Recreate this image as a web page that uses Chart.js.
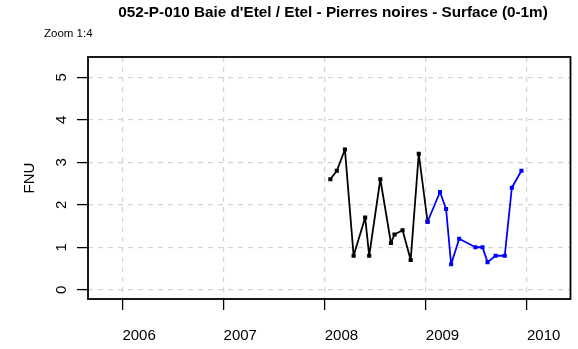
<!DOCTYPE html>
<html>
<head>
<meta charset="utf-8">
<script src="https://cdn.jsdelivr.net/npm/chart.js@4"></script>
<style>
  html, body { margin: 0; padding: 0; background: #fff; }
  canvas { display: block; }
</style>
</head>
<body>
<canvas id="grafico" width="578" height="349"></canvas>
<script>
// Mesures de turbidité (FNU), dates en années décimales
const datesNoir = [2008.056, 2008.12, 2008.20, 2008.286, 2008.40, 2008.44, 2008.55, 2008.655, 2008.69, 2008.77, 2008.85, 2008.93, 2009.017];
const valeursNoir = [2.6, 2.8, 3.3, 0.8, 1.7, 0.8, 2.6, 1.1, 1.3, 1.4, 0.7, 3.2, 1.6];
const datesBleu = [2009.017, 2009.14, 2009.20, 2009.25, 2009.33, 2009.49, 2009.56, 2009.61, 2009.69, 2009.78, 2009.85, 2009.945];
const valeursBleu = [1.6, 2.3, 1.9, 0.6, 1.2, 1.0, 1.0, 0.65, 0.8, 0.8, 2.4, 2.8];
const annees = [2006, 2007, 2008, 2009, 2010];
const niveaux = [0, 1, 2, 3, 4, 5];

const titre = "052-P-010 Baie d'Etel / Etel - Pierres noires - Surface (0-1m)";
const sousTitre = "Zoom 1:4";
const uniteY = "FNU";

const police = "'Liberation Sans', Arial, sans-serif";

const versPoints = (xs, ys) => xs.map((x, i) => ({ x: x, y: ys[i] }));

// Cadre, titres et étiquettes verticales de l'axe Y
const habillage = {
    id: "habillage",
    afterDraw(chart) {
        const ctx = chart.ctx;
        const zone = chart.chartArea;
        const echY = chart.scales.y;
        ctx.save();
        ctx.strokeStyle = "#000";
        ctx.lineWidth = 1.8;
        ctx.strokeRect(zone.left, zone.top, zone.right - zone.left, zone.bottom - zone.top);

        ctx.fillStyle = "#000";
        ctx.textAlign = "center";
        ctx.textBaseline = "middle";
        ctx.font = "bold 15.3px " + police;
        ctx.fillText(titre, 333, 13);

        ctx.textAlign = "left";
        ctx.font = "11.5px " + police;
        ctx.fillText(sousTitre, 44, 34);

        niveaux.forEach((v) => {
            ctx.save();
            ctx.translate(62, echY.getPixelForValue(v));
            ctx.rotate(-Math.PI / 2);
            ctx.textAlign = "center";
            ctx.font = "15px " + police;
            ctx.fillText(String(v), 0, 0);
            ctx.restore();
        });

        ctx.save();
        ctx.translate(30, (zone.top + zone.bottom) / 2);
        ctx.rotate(-Math.PI / 2);
        ctx.textAlign = "center";
        ctx.font = "15px " + police;
        ctx.fillText(uniteY, 0, 0);
        ctx.restore();
        ctx.restore();
    },
};

const styleSerie = (couleur, points) => ({
    data: points,
    showLine: true,
    borderColor: couleur,
    backgroundColor: couleur,
    borderWidth: 1.8,
    borderJoinStyle: "round",
    borderCapStyle: "round",
    pointStyle: "rect",
    pointRadius: 2.9,
    pointBorderWidth: 0,
});

const grille = {
    color: "#D3D3D3",
    lineWidth: 1.2,
    drawTicks: true,
    tickLength: 11,
    tickColor: "#000",
    tickWidth: 1.3,
    tickBorderDash: [],
};

const ctx = document.querySelector("#grafico").getContext("2d");
new Chart(ctx, {
    type: "scatter",
    data: {
        datasets: [
            { ...styleSerie("#0000FF", versPoints(datesBleu, valeursBleu)), order: 1 },
            { ...styleSerie("#000000", versPoints(datesNoir, valeursNoir)), order: 2 },
        ],
    },
    options: {
        responsive: false,
        animation: false,
        devicePixelRatio: 1,
        layout: { padding: { top: 57, right: 7, left: 0, bottom: 0 } },
        plugins: { legend: { display: false }, tooltip: { enabled: false } },
        scales: {
            x: {
                type: "linear",
                min: 2005.66,
                max: 2010.43,
                afterBuildTicks: (axe) => { axe.ticks = annees.map((v) => ({ value: v })); },
                afterFit: (axe) => { axe.height = 50; },
                grid: grille,
                border: { display: false, dash: [5, 5] },
                ticks: {
                    color: "#000",
                    font: { family: police, size: 15 },
                    padding: 17,
                    align: "start",
                    maxRotation: 0,
                    callback: (v) => String(v),
                },
            },
            y: {
                min: -0.218,
                max: 5.477,
                afterBuildTicks: (axe) => { axe.ticks = niveaux.map((v) => ({ value: v })); },
                afterFit: (axe) => { axe.width = 88; },
                grid: grille,
                border: { display: false, dash: [5, 5] },
                ticks: { color: "rgba(0,0,0,0)", font: { size: 15 } },
            },
        },
    },
    plugins: [habillage],
});
</script>
</body>
</html>
